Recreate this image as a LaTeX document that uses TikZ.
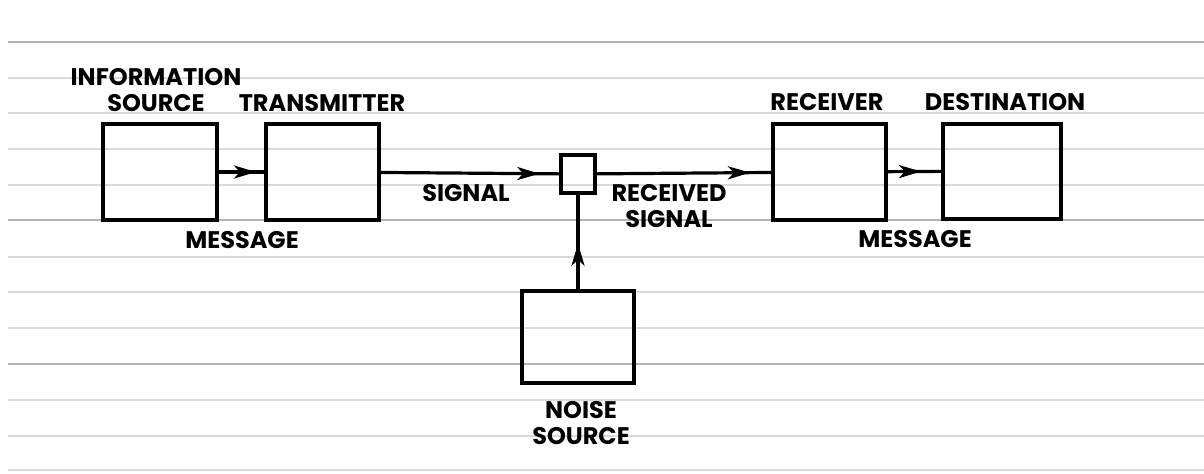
\documentclass[tikz,border=0pt]{standalone}
\usepackage{fontspec}
\setmainfont{Poppins}
\usepackage{tikz}
\usetikzlibrary{arrows.meta,decorations.markings}

\begin{document}
\begin{tikzpicture}[x=0.5pt,y=-0.5pt]

\tikzset{block/.style = {shape=rectangle,draw,line width=2pt,minimum width=57pt,minimum height=48pt,inner sep=0pt}}
\tikzset{lbl/.style = {font=\bfseries\fontsize{12}{13}\selectfont,inner sep=0pt,align=center}}
\tikzset{edge/.style = {line width=1.6pt,postaction={decorate,decoration={markings,
  mark=at position #1 with {\arrow{Stealth[length=11pt,width=6.5pt,inset=3pt]}}}}}}
\tikzset{paperline/.style = {gray!30,line width=0.8pt}}

\useasboundingbox (0,0) rectangle (1204,473);

% ruled paper
\foreach \y in {78,113,149,185,257,292,328,400,436,470}
  \draw[paperline] (8,\y) -- (1204,\y);
\foreach \y in {42,220,364}
  \draw[paperline,gray!60] (8,\y) -- (1204,\y);

\node[block] (src) at (160,172) {};
\node[block,minimum width=56.5pt] (tx) at (322.5,172) {};
\node[block,minimum width=17pt,minimum height=19pt,line width=1.7pt] (junc) at (578,174) {};
\node[block,minimum width=56.5pt] (rx) at (829.5,172) {};
\node[block,minimum width=59pt,minimum height=47.5pt] (dst) at (1002,171) {};
\node[block,minimum width=56pt,minimum height=46pt] (noise) at (578,337) {};

\node[lbl] (srclbl) at (156,90) {INFORMATION\\SOURCE};
\node[lbl] (txlbl) at (322,103) {TRANSMITTER};
\node[lbl] (msglbl) at (242,240) {MESSAGE};
\node[lbl] (siglbl) at (466,193) {SIGNAL};
\node[lbl] (rsiglbl) at (669,206) {RECEIVED\\SIGNAL};
\node[lbl] (rxlbl) at (827,102) {RECEIVER};
\node[lbl] (dstlbl) at (1005,102) {DESTINATION};
\node[lbl] (msg2lbl) at (915,239) {MESSAGE};
\node[lbl] (noiselbl) at (581,423) {NOISE\\SOURCE};

\draw[edge=-4pt] (src) -- (tx);
\draw[edge=-10pt] (tx) -- (junc);
\draw[edge=-10.5pt] (junc) -- (rx);
\draw[edge=-10pt] (rx) -- (dst);
\draw[edge=-24.5pt] (noise) -- (junc);

\end{tikzpicture}
\end{document}
